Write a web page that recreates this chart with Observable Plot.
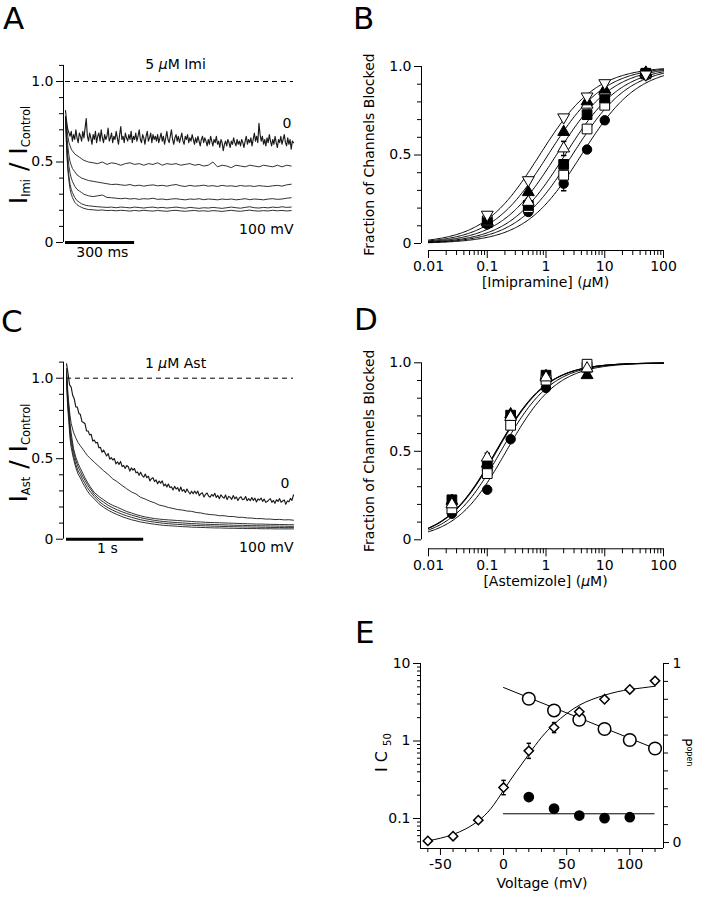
<!DOCTYPE html>
<html><head><meta charset="utf-8">
<script src="https://cdn.jsdelivr.net/npm/d3@7"></script>
<script src="https://cdn.jsdelivr.net/npm/@observablehq/plot@0.6"></script>
<style>
body{margin:0;background:#fff;}
#fig{position:relative;width:703px;height:900px;background:#fff;overflow:hidden;font-family:"DejaVu Sans";}
.panel{position:absolute;}
.letter{position:absolute;font-family:"DejaVu Sans";font-size:31px;line-height:31px;color:#000;}
</style></head><body><div id="fig"></div>
<script>
const FONT = "DejaVu Sans";

// ---------------- Panel A: 5 µM imipramine, I/Icontrol traces (time in ms) ----------------
const tA_fast = d3.range(0, 995, 5);
const A_0mV = [0.82,0.75,0.70,0.68,0.66,0.69,0.63,0.67,0.64,0.70,
 0.65,0.62,0.68,0.66,0.63,0.69,0.65,0.71,0.77,0.66,
 0.63,0.68,0.65,0.61,0.67,0.64,0.69,0.62,0.66,0.68,
 0.63,0.70,0.65,0.62,0.67,0.64,0.66,0.71,0.63,0.65,
 0.68,0.62,0.66,0.64,0.69,0.65,0.61,0.67,0.72,0.64,
 0.66,0.62,0.68,0.65,0.63,0.67,0.64,0.69,0.62,0.66,
 0.64,0.68,0.63,0.66,0.70,0.64,0.62,0.67,0.65,0.61,
 0.66,0.69,0.63,0.65,0.68,0.62,0.67,0.64,0.66,0.63,
 0.67,0.62,0.65,0.68,0.63,0.66,0.61,0.65,0.69,0.64,
 0.62,0.66,0.70,0.64,0.61,0.65,0.67,0.63,0.66,0.62,
 0.65,0.68,0.63,0.61,0.66,0.64,0.67,0.62,0.65,0.63,
 0.67,0.64,0.61,0.65,0.62,0.66,0.63,0.60,0.64,0.66,
 0.62,0.65,0.63,0.60,0.64,0.61,0.66,0.63,0.60,0.64,
 0.62,0.66,0.61,0.63,0.59,0.64,0.62,0.57,0.61,0.63,
 0.60,0.64,0.62,0.59,0.63,0.61,0.65,0.62,0.60,0.64,
 0.61,0.63,0.60,0.64,0.62,0.59,0.63,0.66,0.61,0.64,
 0.62,0.65,0.60,0.64,0.68,0.63,0.66,0.62,0.74,0.67,
 0.63,0.66,0.61,0.64,0.60,0.65,0.62,0.67,0.63,0.60,
 0.64,0.61,0.66,0.62,0.59,0.64,0.62,0.66,0.61,0.64,
 0.67,0.62,0.60,0.65,0.61,0.64,0.58,0.63,0.62];
const tA_slow = [0,5,10,15,20,25,30,40,50,60,70,80,90,100].concat(d3.range(120, 1000, 20));
const A_20mV = [0.78,0.72,0.66,0.62,0.60,0.58,0.57,0.55,0.54,0.53,0.52,0.51,0.505,0.50,
 0.495,0.49,0.50,0.485,0.495,0.49,0.48,0.49,0.495,0.485,
 0.49,0.48,0.49,0.485,0.495,0.48,0.49,0.485,0.49,0.48,
 0.485,0.49,0.48,0.485,0.475,0.48,0.50,0.47,0.48,0.475,
 0.465,0.48,0.475,0.47,0.48,0.475,0.47,0.48,0.475,0.47,
 0.48,0.47,0.48,0.475];
const A_40mV = [0.78,0.68,0.60,0.54,0.50,0.48,0.46,0.44,0.42,0.41,0.40,0.395,0.39,0.385,
 0.38,0.375,0.37,0.365,0.36,0.362,0.358,0.355,0.36,0.352,
 0.356,0.35,0.355,0.358,0.352,0.355,0.35,0.356,0.36,0.352,
 0.348,0.355,0.35,0.352,0.356,0.35,0.353,0.348,0.355,0.35,
 0.352,0.348,0.354,0.35,0.352,0.348,0.353,0.35,0.348,0.352,
 0.355,0.35,0.358,0.362];
const A_60mV = [0.78,0.64,0.54,0.47,0.43,0.40,0.38,0.35,0.33,0.32,0.31,0.30,0.295,0.29,
 0.285,0.29,0.295,0.28,0.278,0.275,0.272,0.275,0.27,0.273,
 0.268,0.272,0.27,0.275,0.268,0.27,0.266,0.27,0.272,0.268,
 0.265,0.27,0.268,0.272,0.266,0.27,0.268,0.265,0.27,0.267,
 0.27,0.265,0.268,0.272,0.266,0.27,0.268,0.265,0.27,0.272,
 0.268,0.27,0.275,0.278];
const A_80mV = [0.78,0.60,0.48,0.41,0.36,0.33,0.31,0.28,0.26,0.25,0.24,0.235,0.23,0.228,
 0.225,0.222,0.22,0.218,0.22,0.216,0.22,0.218,0.215,0.22,
 0.217,0.214,0.218,0.22,0.215,0.218,0.214,0.217,0.22,0.216,
 0.213,0.218,0.215,0.212,0.216,0.214,0.218,0.215,0.212,0.216,
 0.22,0.216,0.213,0.218,0.222,0.216,0.214,0.218,0.215,0.22,
 0.217,0.222,0.218,0.22];
const A_100mV = [0.78,0.57,0.45,0.38,0.33,0.30,0.28,0.25,0.235,0.225,0.218,0.212,0.208,0.205,
 0.203,0.20,0.202,0.198,0.20,0.197,0.20,0.198,0.195,0.199,
 0.196,0.2,0.197,0.195,0.199,0.196,0.194,0.198,0.2,0.196,
 0.194,0.197,0.199,0.195,0.197,0.194,0.198,0.196,0.193,0.197,
 0.2,0.196,0.194,0.198,0.201,0.197,0.195,0.198,0.196,0.2,
 0.197,0.199,0.196,0.198];

// ---------------- Panel C: 1 µM astemizole traces (time in ms) ----------------
const tC_fast = d3.range(0, 2950, 20);
const C_0mV = [1.09,1.028,0.958,0.945,0.894,0.873,0.822,0.82,0.781,0.774,
 0.731,0.725,0.717,0.672,0.672,0.648,0.651,0.609,0.616,0.598,
 0.602,0.568,0.57,0.54,0.554,0.536,0.517,0.532,0.497,0.507,
 0.492,0.501,0.468,0.481,0.464,0.483,0.451,0.458,0.44,0.458,
 0.45,0.423,0.443,0.429,0.439,0.413,0.418,0.397,0.416,0.395,
 0.385,0.405,0.382,0.391,0.362,0.376,0.382,0.358,0.368,0.344,
 0.361,0.348,0.362,0.331,0.342,0.325,0.343,0.321,0.325,0.306,
 0.328,0.312,0.32,0.298,0.324,0.298,0.308,0.29,0.312,0.295,
 0.281,0.298,0.282,0.299,0.282,0.299,0.27,0.283,0.288,0.262,
 0.278,0.287,0.268,0.261,0.278,0.267,0.285,0.259,0.272,0.252,
 0.276,0.262,0.255,0.275,0.246,0.266,0.26,0.248,0.271,0.251,
 0.263,0.241,0.258,0.263,0.245,0.249,0.265,0.239,0.252,0.239,
 0.259,0.241,0.255,0.231,0.25,0.243,0.256,0.235,0.249,0.229,
 0.234,0.244,0.252,0.229,0.241,0.223,0.245,0.235,0.252,0.23,
 0.237,0.244,0.217,0.238,0.232,0.253,0.241,0.276];
const tC_slow = [0,15,30,45,60,90,120,150,180,210,240,270,300].concat(d3.range(360, 2950, 60));
const C_20mV = [1.06,0.93,0.84,0.77,0.72,0.665,0.63,0.60,0.58,0.56,0.54,0.52,0.505,
 0.478,0.452,0.425,0.402,0.374,0.356,0.333,0.313,0.294,0.281,
 0.26,0.249,0.236,0.226,0.212,0.206,0.197,0.191,0.184,0.181,
 0.175,0.173,0.166,0.163,0.157,0.153,0.151,0.146,0.146,0.141,
 0.141,0.136,0.136,0.132,0.131,0.128,0.128,0.125,0.125,0.122,
 0.123,0.12,0.121,0.118];
const C_40mV = [1.04,0.90,0.82,0.72,0.66,0.565,0.51,0.47,0.44,0.41,0.38,0.355,0.33,
 0.29,0.265,0.245,0.225,0.21,0.198,0.185,0.172,0.163,0.153,
 0.145,0.138,0.133,0.128,0.125,0.122,0.12,0.118,0.116,0.114,
 0.112,0.11,0.108,0.107,0.105,0.104,0.103,0.102,0.101,0.1,
 0.099,0.098,0.097,0.096,0.095,0.094,0.094,0.093,0.092,0.092,
 0.091,0.091,0.09,0.09];
const C_60mV = [1.02,0.87,0.79,0.69,0.63,0.545,0.49,0.45,0.42,0.39,0.365,0.34,0.318,
 0.278,0.25,0.23,0.21,0.195,0.182,0.17,0.16,0.15,0.142,
 0.134,0.127,0.122,0.117,0.113,0.11,0.107,0.105,0.103,0.101,
 0.099,0.097,0.096,0.094,0.093,0.092,0.091,0.09,0.089,0.088,
 0.087,0.086,0.086,0.085,0.084,0.084,0.083,0.083,0.082,0.082,
 0.081,0.081,0.08,0.08];
const C_80mV = [1.0,0.85,0.76,0.66,0.60,0.52,0.465,0.425,0.40,0.37,0.345,0.32,0.30,
 0.265,0.235,0.213,0.195,0.18,0.167,0.155,0.145,0.136,0.128,
 0.121,0.115,0.11,0.106,0.102,0.099,0.096,0.094,0.092,0.09,
 0.088,0.087,0.085,0.084,0.083,0.082,0.081,0.08,0.079,0.078,
 0.078,0.077,0.076,0.076,0.075,0.075,0.074,0.074,0.073,0.073,
 0.073,0.072,0.072,0.072];
const C_100mV = [0.98,0.82,0.73,0.63,0.57,0.50,0.445,0.405,0.38,0.35,0.325,0.30,0.28,
 0.25,0.22,0.198,0.18,0.165,0.152,0.14,0.13,0.121,0.114,
 0.107,0.102,0.097,0.093,0.089,0.086,0.084,0.082,0.08,0.078,
 0.077,0.075,0.074,0.073,0.072,0.071,0.07,0.07,0.069,0.068,
 0.068,0.067,0.067,0.066,0.066,0.066,0.065,0.065,0.065,0.064,
 0.064,0.064,0.064,0.064];

// trace-panel axis ticks
const traceYTicks = [0, 0.5, 1];
const traceYLabels = ["0", "0.5", "1.0"];
const traceYMinor = [0.1, 0.2, 0.3, 0.4, 0.6, 0.7, 0.8, 0.9, 1.1];

// ---------------- Panel B: imipramine concentration-response ----------------
const concB = [0.1, 0.5, 2, 5, 10, 50];
const B_openDown     = [0.163, 0.358, 0.713, 0.831, 0.906, 0.955];
const B_filledUp     = [0.125, 0.29, 0.63, 0.803, 0.869, 0.965];
const B_openUp       = [0.12, 0.235, 0.537, 0.784, 0.86, 0.96];
const B_filledSquare = [0.118, 0.215, 0.447, 0.728, 0.822, 0.962];
const B_openSquare   = [0.128, 0.203, 0.386, 0.647, 0.781, 0.958];
const B_filledCircle = [0.108, 0.178, 0.338, 0.531, 0.696, 0.95];
const B_openUpErr       = [0, 0, 0.04, 0, 0, 0];
const B_filledCircleErr = [0, 0, 0.04, 0, 0, 0];
// Hill fit parameters (IC50 in µM, Hill coefficient), same order as series above
const B_fitIC50 = [0.78, 1.08, 1.5, 2.1, 2.8, 4.0];
const B_fitHill = [0.9, 0.9, 0.9, 0.9, 0.9, 0.9];

// ---------------- Panel D: astemizole concentration-response ----------------
const concD = [0.025, 0.1, 0.25, 1, 5];
const D_filledUp     = [0.22, 0.43, 0.709, 0.925, 0.93];
const D_filledSquare = [0.226, 0.415, 0.704, 0.93, 0.975];
const D_openUp       = [0.2, 0.464, 0.694, 0.917, 0.968];
const D_openSquare   = [0.175, 0.374, 0.647, 0.902, 0.992];
const D_filledCircle = [0.147, 0.283, 0.568, 0.858, 0.97];
const D_openUpErr    = [0, 0.025, 0, 0, 0];
const D_fitIC50 = [0.14, 0.142, 0.145, 0.17, 0.21];
const D_fitHill = [1, 1, 1, 1, 1];

const fracYTicks = [0, 0.5, 1];
const fracYLabels = ["0", "0.5", "1.0"];
const fracYMinor = [0.1, 0.2, 0.3, 0.4, 0.6, 0.7, 0.8, 0.9];
const concTicks = [0.01, 0.1, 1, 10, 100];
const concLabels = ["0.01", "0.1", "1", "10", "100"];
const concMinorSteps = [2, 3, 4, 5, 6, 7, 8, 9];

// ---------------- Panel E: voltage dependence ----------------
const voltImi = [20, 40, 60, 80, 100, 120];
const ic50Imi = [3.51, 2.48, 1.88, 1.43, 1.03, 0.80];
const voltAst = [20, 40, 60, 80, 100];
const ic50Ast = [0.189, 0.134, 0.109, 0.101, 0.104];
const imiFitV = [0, 120];
const imiFitIC50 = [4.9, 0.8];
const astFitV = [0, 120];
const astFitIC50 = 0.115;
const voltPopen = [-60, -40, -20, 0, 20, 40, 60, 80, 100, 120];
const popen = [0.009, 0.035, 0.125, 0.307, 0.512, 0.642, 0.73, 0.80, 0.855, 0.903];
const popenErr = [0, 0, 0, 0.04, 0.042, 0.028, 0, 0, 0.008, 0];
const popenFitV = [-60,-50,-40,-30,-20,-10,0,10,20,30,40,50,60,70,80,90,100,110,120];
const popenFit = [0.009,0.024,0.045,0.076,0.121,0.19,0.292,0.395,0.493,0.587,0.661,0.72,0.767,0.799,0.823,0.842,0.855,0.864,0.873];
const voltTicks = [-50, 0, 50, 100];
const voltLabels = ["-50", "0", "50", "100"];
const voltMinor = [-60,-40,-30,-20,-10,10,20,30,40,60,70,80,90,110,120];
const ic50Ticks = [0.1, 1, 10];
const ic50Labels = ["0.1", "1", "10"];
const ic50Minor = [0.05,0.06,0.07,0.08,0.09,0.2,0.3,0.4,0.5,0.6,0.7,0.8,0.9,2,3,4,5,6,7,8,9];
const popenTicks = [0, 1];
const popenLabels = ["0", "1"];
const popenMinor = [0.1,0.2,0.3,0.4,0.5,0.6,0.7,0.8,0.9];

// ---------------- helpers ----------------
const fig = document.getElementById("fig");
const baseStyle = {fontFamily: FONT, fontSize: "14px", background: "transparent", overflow: "visible", color: "black"};
function place(el, left, top) {
  const w = document.createElement("div");
  w.className = "panel";
  w.style.left = left + "px"; w.style.top = top + "px";
  w.appendChild(el); fig.appendChild(w); return el;
}
function letter(ch, left, top) {
  const d = document.createElement("div");
  d.className = "letter"; d.textContent = ch;
  d.style.left = left + "px"; d.style.top = top + "px";
  fig.appendChild(d);
}
function richLabel(svg, x, y, rot, anchor, parts) {
  const t = d3.select(svg).append("text")
    .attr("transform", `translate(${x},${y}) rotate(${rot})`)
    .attr("text-anchor", anchor).attr("font-family", FONT).attr("fill", "black");
  parts.forEach(p => t.append("tspan").attr("font-size", p.size).attr("dy", p.dy || 0).text(p.text));
}
// set the micro sign in italics, as in the reference
function italicMu(svg) {
  d3.select(svg).selectAll("text").each(function() {
    if (this.childElementCount === 0 && this.textContent.includes("µ")) {
      const parts = this.textContent.split("µ");
      const sel = d3.select(this).text("");
      parts.forEach((p, i) => {
        if (i > 0) sel.append("tspan").attr("font-style", "italic").text("µ");
        if (p) sel.append("tspan").text(p);
      });
    }
  });
}
const fmt = (ticks, labels) => d => labels[ticks.indexOf(d)];
const blank = () => "";
const triangleDown = {draw(ctx, size) {
  const y = -Math.sqrt(size / (Math.sqrt(3) * 3));
  ctx.moveTo(0, -y * 2); ctx.lineTo(-Math.sqrt(3) * y, y); ctx.lineTo(Math.sqrt(3) * y, y); ctx.closePath();
}};
const capSymbol = {draw(ctx, size) { const w = Math.sqrt(size) / 2; ctx.moveTo(-w, 0); ctx.lineTo(w, 0); }};
const trace = (t, v, w) => Plot.line(t, {x: t, y: v, stroke: "#1a1a1a", strokeWidth: w || 0.9});

function tracePanel(cfg) {
  return Plot.plot({
    width: 330, height: 230, marginLeft: 63, marginRight: 37,
    marginTop: cfg.mt, marginBottom: 230 - cfg.mt - 177.1,
    style: baseStyle,
    x: {domain: [cfg.xmin, cfg.xmax], axis: null},
    y: {domain: [0, 1.1]},
    marks: [
      Plot.ruleX([cfg.xmin], {y1: 0, y2: 1.1, stroke: "black"}),
      Plot.axisY({ticks: traceYTicks, tickSize: 7, tickPadding: 3, tickFormat: fmt(traceYTicks, traceYLabels), label: null}),
      Plot.axisY({ticks: traceYMinor, tickSize: 4, tickFormat: blank, label: null}),
      Plot.ruleY([1], {x1: 0, x2: cfg.xmax, strokeDasharray: "5,4", stroke: "black"}),
      Plot.ruleY([0], {x1: 0, x2: cfg.bar, strokeWidth: 3, stroke: "black"}),
      ...cfg.slow.map(v => trace(cfg.tSlow, v)),
      trace(cfg.tFast, cfg.fast, 1.15),
      Plot.text([cfg.title], {x: cfg.titleX, y: cfg.titleY}),
      Plot.text(["0"], {x: cfg.zeroX, y: cfg.zeroY}),
      Plot.text(["100 mV"], {x: cfg.xmax, y: cfg.mvY, textAnchor: "end"}),
      Plot.text([cfg.barLabel], {x: cfg.barX, y: cfg.barY})
    ]
  });
}

// ---- Panel A ----
const svgA = place(tracePanel({
  mt: 24.9, xmin: -8.7, xmax: 990, bar: 300,
  tSlow: tA_slow, slow: [A_100mV, A_80mV, A_60mV, A_40mV, A_20mV],
  tFast: tA_fast, fast: A_0mV,
  title: "5 µM Imi", titleX: 478, titleY: 1.106,
  zeroX: 962, zeroY: 0.74, mvY: 0.08,
  barLabel: "300 ms", barX: 160, barY: -0.062
}), 0, 40);
richLabel(svgA, 27, 115, -90, "middle", [
  {text: "I", size: 25}, {text: "Imi", size: 11.5, dy: 3}, {text: " / ", size: 25, dy: -3},
  {text: "I", size: 25}, {text: "Control", size: 11.5, dy: 3}]);
italicMu(svgA);

// ---- Panel C ----
const svgC = place(tracePanel({
  mt: 21.6, xmin: -39, xmax: 2940, bar: 1000,
  tSlow: tC_slow, slow: [C_100mV, C_80mV, C_60mV, C_40mV, C_20mV],
  tFast: tC_fast, fast: C_0mV,
  title: "1 µM Ast", titleX: 1412, titleY: 1.09,
  zeroX: 2830, zeroY: 0.346, mvY: -0.052,
  barLabel: "1 s", barX: 530, barY: -0.058
}), 0, 340);
richLabel(svgC, 27, 113, -90, "middle", [
  {text: "I", size: 25}, {text: "Ast", size: 11.5, dy: 3}, {text: " / ", size: 25, dy: -3},
  {text: "I", size: 25}, {text: "Control", size: 11.5, dy: 3}]);
italicMu(svgC);

// ---- dose-response panels ----
const fitGrid = d3.range(-2, 2.0001, 0.02).map(e => Math.pow(10, e));
const hill = (c, ic50, n) => Math.pow(c, n) / (Math.pow(c, n) + Math.pow(ic50, n));
const concMinor = concTicks.slice(0, 4).flatMap(d => concMinorSteps.map(k => k * d));

function dosePanel(cfg) {
  const xmin = 0.0076;
  const fits = cfg.ic50.flatMap((ic, s) => fitGrid.map(c => ({s, c, f: hill(c, ic, cfg.hill[s])})));
  const dots = cfg.series.map(se => Plot.dot(cfg.conc.map((c, i) => ({c, f: se.values[i]})),
    {x: "c", y: "f", symbol: se.symbol, r: se.r, fill: se.fill, stroke: "black", strokeWidth: 1}));
  const errRows = cfg.series.flatMap(se => se.err ? cfg.conc.map((c, i) => ({c, f: se.values[i], e: se.err[i]})).filter(d => d.e > 0) : []);
  return Plot.plot({
    width: 363, height: 260, marginLeft: 81, marginRight: 40, marginTop: cfg.mt, marginBottom: cfg.mb,
    style: baseStyle,
    x: {type: "log", domain: [xmin, 100]},
    y: {domain: [cfg.ymin, 1]},
    marks: [
      Plot.ruleX([xmin], {y1: 0, y2: 1, stroke: "black"}),
      Plot.ruleY([cfg.ymin], {x1: 0.01, x2: 100, stroke: "black"}),
      Plot.axisY({ticks: fracYTicks, tickSize: 7, tickPadding: 3, tickFormat: fmt(fracYTicks, fracYLabels), label: null}),
      Plot.axisY({ticks: fracYMinor, tickSize: 4, tickFormat: blank, label: null}),
      Plot.axisX({ticks: concTicks, tickSize: 8, tickPadding: 3, tickFormat: fmt(concTicks, concLabels), label: null}),
      Plot.axisX({ticks: concMinor, tickSize: 5, tickFormat: blank, label: null}),
      Plot.line(fits, {x: "c", y: "f", z: "s", stroke: "black", strokeWidth: 1}),
      Plot.ruleX(errRows, {x: "c", y1: d => d.f - d.e, y2: d => d.f + d.e, stroke: "black"}),
      Plot.dot(errRows, {x: "c", y: d => d.f - d.e, symbol: capSymbol, r: 3, stroke: "black"}),
      Plot.dot(errRows, {x: "c", y: d => d.f + d.e, symbol: capSymbol, r: 3, stroke: "black"}),
      ...dots,
      Plot.text([cfg.xLabel], {frameAnchor: "bottom", dy: cfg.xLabelDy, dx: 3}),
      Plot.text(["Fraction of Channels Blocked"], {frameAnchor: "left", textAnchor: "middle", rotate: -90, dx: -52, dy: cfg.yLabelDy})
    ]
  });
}

const svgB = place(dosePanel({
  mt: 26, mb: 50, ymin: -0.0395, conc: concB, ic50: B_fitIC50, hill: B_fitHill,
  xLabel: "[Imipramine] (µM)", xLabelDy: 36, yLabelDy: -4,
  series: [
    {values: B_filledCircle, symbol: "circle", r: 4.7, fill: "black", err: B_filledCircleErr},
    {values: B_openSquare, symbol: "square", r: 5.5, fill: "white"},
    {values: B_filledSquare, symbol: "square", r: 5.5, fill: "black"},
    {values: B_openUp, symbol: "triangle", r: 4.4, fill: "white", err: B_openUpErr},
    {values: B_filledUp, symbol: "triangle", r: 4.4, fill: "black"},
    {values: B_openDown, symbol: triangleDown, r: 4.4, fill: "white"}
  ]
}), 340, 40);
italicMu(svgB);

const svgD = place(dosePanel({
  mt: 22.3, mb: 51.7, ymin: -0.0508, conc: concD, ic50: D_fitIC50, hill: D_fitHill,
  xLabel: "[Astemizole] (µM)", xLabelDy: 37, yLabelDy: -5,
  series: [
    {values: D_filledCircle, symbol: "circle", r: 4.7, fill: "black"},
    {values: D_filledSquare, symbol: "square", r: 5.5, fill: "black"},
    {values: D_filledUp, symbol: "triangle", r: 4.4, fill: "black"},
    {values: D_openSquare, symbol: "square", r: 5.5, fill: "white"},
    {values: D_openUp, symbol: "triangle", r: 4.4, fill: "white", err: D_openUpErr}
  ]
}), 340, 340);
italicMu(svgD);

// ---- Panel E ----
const E_xdom = [-65.8, 126.7];
const E_ymin = 0.041;
const svgE = place(Plot.plot({
  width: 343, height: 300, marginLeft: 60, marginRight: 40, marginTop: 63, marginBottom: 52,
  style: baseStyle,
  x: {domain: E_xdom},
  y: {type: "log", domain: [E_ymin, 10]},
  marks: [
    Plot.ruleX([E_xdom[0]], {y1: E_ymin, y2: 10, stroke: "black"}),
    Plot.ruleY([E_ymin], {stroke: "black"}),
    Plot.axisY({ticks: ic50Ticks, tickSize: 7, tickPadding: 3, tickFormat: fmt(ic50Ticks, ic50Labels), label: null}),
    Plot.axisY({ticks: ic50Minor, tickSize: 3, tickFormat: blank, label: null}),
    Plot.axisX({ticks: voltTicks, tickSize: 7, tickPadding: 4, tickFormat: fmt(voltTicks, voltLabels), label: null}),
    Plot.axisX({ticks: voltMinor, tickSize: 4, tickFormat: blank, label: null}),
    Plot.line(imiFitV, {x: imiFitV, y: imiFitIC50, stroke: "black", strokeWidth: 1}),
    Plot.ruleY([astFitIC50], {x1: astFitV[0], x2: astFitV[1], stroke: "black"}),
    Plot.dot(voltImi, {x: voltImi, y: ic50Imi, r: 6.3, fill: "white", stroke: "black"}),
    Plot.dot(voltAst, {x: voltAst, y: ic50Ast, r: 4.6, fill: "black", stroke: "black"}),
    Plot.text(["Voltage (mV)"], {frameAnchor: "bottom", dy: 39})
  ]
}), 360, 600);
richLabel(svgE, 27, 172, -90, "start", [
  {text: "I C ", size: 16}, {text: "50", size: 10, dy: 4}]);

const errP = voltPopen.map((v, i) => ({v, p: popen[i], e: popenErr[i]})).filter(d => d.e > 0);
const svgE2 = place(Plot.plot({
  width: 343, height: 300, marginLeft: 60, marginRight: 40, marginTop: 63, marginBottom: 52,
  style: baseStyle,
  x: {domain: E_xdom, axis: null},
  y: {domain: [-0.0335, 1]},
  marks: [
    Plot.ruleX([E_xdom[1]], {y1: -0.0335, y2: 1, stroke: "black"}),
    Plot.axisY({anchor: "right", ticks: popenTicks, tickSize: 5, tickPadding: 4, tickFormat: fmt(popenTicks, popenLabels), label: null}),
    Plot.axisY({anchor: "right", ticks: popenMinor, tickSize: 4, tickFormat: blank, label: null}),
    Plot.line(popenFitV, {x: popenFitV, y: popenFit, stroke: "black", strokeWidth: 1, curve: "natural"}),
    Plot.ruleX(errP, {x: "v", y1: d => d.p - d.e, y2: d => d.p + d.e, stroke: "black"}),
    Plot.dot(errP, {x: "v", y: d => d.p - d.e, symbol: capSymbol, r: 2.5, stroke: "black"}),
    Plot.dot(errP, {x: "v", y: d => d.p + d.e, symbol: capSymbol, r: 2.5, stroke: "black"}),
    Plot.dot(voltPopen, {x: voltPopen, y: popen, symbol: "diamond2", r: 4.2, fill: "white", stroke: "black"})
  ]
}), 360, 600);
richLabel(svgE2, 322, 138, 90, "start", [
  {text: "P", size: 14}, {text: "open", size: 8, dy: -5}]);

// panel letters
letter("A", 3, 2.8);
letter("B", 353, 2.8);
letter("C", 1, 305.8);
letter("D", 354, 303.8);
letter("E", 355, 616.8);
</script></body></html>
